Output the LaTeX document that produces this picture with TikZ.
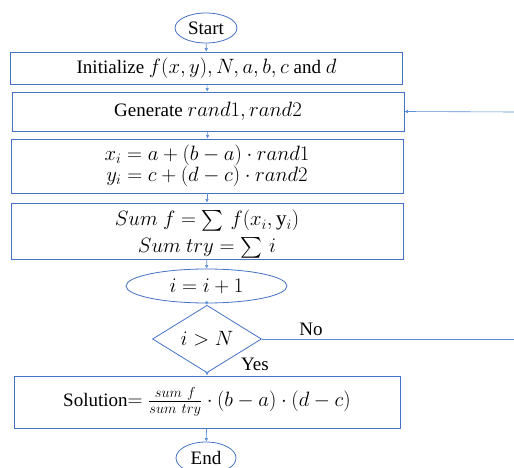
\documentclass[tikz,border=0pt]{standalone}
\usepackage{amsmath}
\usepackage{fontspec}
\setmainfont{Liberation Serif}
\usetikzlibrary{shapes.geometric, arrows.meta, positioning}

\definecolor{flowblue}{RGB}{68,114,196}
\definecolor{linkblue}{RGB}{91,141,214}

\newcommand{\bigmath}[1]{{\fontsize{21}{24}\selectfont$#1$}}

\tikzset{
    terminal/.style={ellipse, draw=flowblue, line width=0.8pt, inner sep=0pt},
    procbox/.style={rectangle, draw=flowblue, line width=0.8pt, inner sep=0pt, minimum width=392pt, align=center},
    decision/.style={diamond, draw=flowblue, line width=0.8pt, inner sep=0pt},
    flow/.style={-{Latex[length=3.5pt,width=3.5pt]}, linkblue, line width=0.6pt},
    flowline/.style={linkblue, line width=0.8pt}
}

\begin{document}
\begin{tikzpicture}[x=1pt, y=-1pt, font=\fontsize{19}{23}\selectfont]
                \useasboundingbox (0,0) rectangle (514,468);
                
                % Main column
                \node[terminal, minimum width=62pt, minimum height=30pt] (start) at (206,28) {Start};
                \node[procbox, minimum height=32pt] (init) at (206.5,68) {Initialize \bigmath{f(x,y), N, a, b, c} and \bigmath{d}};
                \node[procbox, minimum height=39pt] (gen) at (208,111.5) {Generate \bigmath{rand1, rand2}};
                \node[procbox, minimum height=54pt] (coords) at (207,166) {\bigmath{x_i=a+(b-a)\cdot rand1}\\[-2pt]\bigmath{y_i=c+(d-c)\cdot rand2}};
                \node[procbox, minimum height=56pt] (sums) at (207,231) {\rule{0pt}{22pt}\bigmath{Sum\ f=\textstyle\sum\, f(x_i,\mathrm{y}_i)}\\[4pt]\bigmath{Sum\ try=\textstyle\sum\, i}};
                \node[terminal, minimum width=161pt, minimum height=34pt] (incr) at (206.5,286) {\bigmath{i=i+1}};
                \node[decision, minimum width=109pt, minimum height=44pt] (check) at (207,339) {\bigmath{i>N}};
                \node[procbox, minimum width=386pt, minimum height=52pt] (sol) at (207,402) {Solution\bigmath{=\frac{sum\ f}{sum\ try}\cdot(b-a)\cdot(d-c)}};
                \node[terminal, minimum width=60pt, minimum height=32pt] (stop) at (206,458) {End};
                
                % Arrows down the column
                \draw[flow] (start) -- (init);
                \draw[flow] (init) -- (gen);
                \draw[flow] (gen) -- (coords);
                \draw[flow] (coords) -- (sums);
                \draw[flow] (sums) -- (incr);
                \draw[flow] (incr) -- (check);
                \draw[flow] (check) -- (sol);
                \draw[flow] (sol) -- (stop);
                
                % Loop back
                \coordinate (noend) at (514,339);
                \coordinate (backin) at (514,112);
                \draw[flowline] (check.east) -- (noend);
                \draw[flow] (backin) -- (gen.east);
                \node (nolabel) at (311,329) {No};
                \node (yeslabel) at (255,364) {Yes};
                
            \end{tikzpicture}
\end{document}
